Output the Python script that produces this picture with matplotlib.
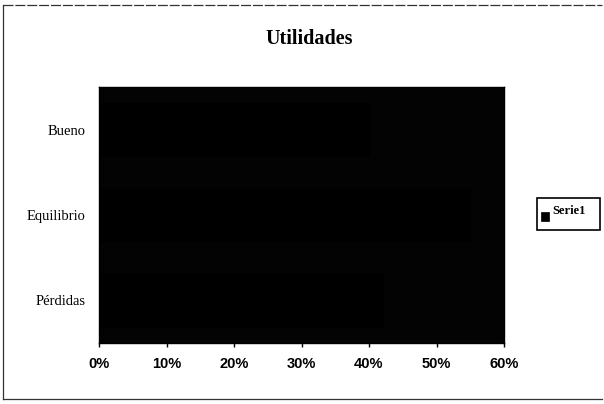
import matplotlib
matplotlib.use("Agg")
import matplotlib.pyplot as plt
from matplotlib.lines import Line2D
from matplotlib.patches import Rectangle

# Data
categories = ["Pérdidas", "Equilibrio", "Bueno"]
values = [0.42, 0.55, 0.40]
x_ticks = [0.0, 0.1, 0.2, 0.3, 0.4, 0.5, 0.6]
x_tick_labels = ["0%", "10%", "20%", "30%", "40%", "50%", "60%"]
series_name = "Serie1"
title = "Utilidades"

W, H = 604, 404
fig = plt.figure(figsize=(W / 100, H / 100), dpi=100)
fig.patch.set_facecolor("white")

# plot area in pixel coordinates
left, right, top, bottom = 99, 504, 87, 343
ax = fig.add_axes([left / W, 1 - bottom / H, (right - left) / W, (bottom - top) / H])
ax.set_facecolor("#030303")

ypos = list(range(len(categories)))
ax.barh(ypos, values, height=0.62, color="#000000", edgecolor="#000000")

ax.set_xlim(0, 0.6)
ax.set_ylim(-0.5, len(categories) - 0.5)
ax.set_xticks(x_ticks)
ax.set_xticklabels(x_tick_labels, fontfamily="Liberation Sans", fontweight="bold",
                   fontsize=10.5, color="black")
ax.set_yticks(ypos)
ax.set_yticklabels(categories, fontfamily="Liberation Serif", fontsize=10.5, color="black")
ax.tick_params(axis="x", length=3, width=1, color="black", pad=7, direction="out")
ax.tick_params(axis="y", length=0, pad=10)
for s in ax.spines.values():
    s.set_color("black")
    s.set_linewidth(1)

# title
fig.text(309 / W, 1 - 39 / H, title, ha="center", va="center",
         fontfamily="Liberation Serif", fontweight="bold", fontsize=14.5, color="black")

# legend box
lx0, lx1, ly0, ly1 = 537, 600, 198, 230
fig.patches.append(Rectangle((lx0 / W, 1 - ly1 / H), (lx1 - lx0) / W, (ly1 - ly0) / H,
                             transform=fig.transFigure, facecolor="white",
                             edgecolor="black", linewidth=1.2))
fig.patches.append(Rectangle((541 / W, 1 - 221 / H), 8 / W, 9 / H,
                             transform=fig.transFigure, facecolor="black",
                             edgecolor="black", linewidth=0.5))
fig.text(552 / W, 1 - 211 / H, series_name, ha="left", va="center",
         fontfamily="Liberation Serif", fontweight="bold", fontsize=9, color="black")

# outer chart border
border = dict(transform=fig.transFigure, color="#333333", linewidth=0.9)
fig.lines.append(Line2D([3 / W, 3 / W], [1 - 5 / H, 1 - 399 / H], **border))
fig.lines.append(Line2D([3 / W, 602 / W], [1 - 5 / H, 1 - 5 / H], linestyle=(0, (8, 1.5)), **border))
fig.lines.append(Line2D([3 / W, 602 / W], [1 - 399 / H, 1 - 399 / H], **border))

fig.savefig("out.png", dpi=100, facecolor="white")
